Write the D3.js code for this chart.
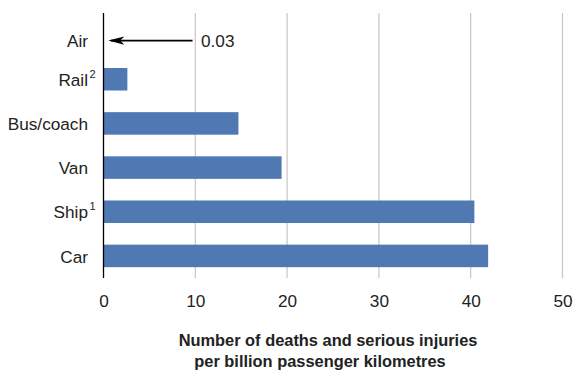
<!DOCTYPE html>
<html><head><meta charset="utf-8">
<script src="https://cdn.jsdelivr.net/npm/d3@7/dist/d3.min.js"></script>
<style>body{margin:0;background:#fff}svg{display:block}text{font-family:"Liberation Sans",Arial,sans-serif;fill:#222}</style>
</head><body><svg id="c" width="573" height="372"></svg>
<script>
const categories = ["Air","Rail","Bus/coach","Van","Ship","Car"];
const superscripts = ["","2","","","1",""];
const values = [0.03, 2.6, 14.7, 19.4, 40.4, 41.9];
const ticks = [0,10,20,30,40,50];
const titleLines = ["Number of deaths and serious injuries","per billion passenger kilometres"];
const airNote = "0.03";

const FS = "17.2px";
const svg = d3.select("#c");
const x = d3.scaleLinear().domain([0,50]).range([103.5,562.5]);
const y = d3.scaleBand().domain(categories).range([13,278]).paddingInner(0.49).paddingOuter(0.245);
const rowShift = c => c === "Air" ? 5.5 : 0; // annotation row sits slightly lower in the original

// gridlines
svg.append("g").selectAll("line").data(ticks.slice(1)).join("line")
  .attr("x1",d=>x(d)).attr("x2",d=>x(d)).attr("y1",13).attr("y2",278)
  .attr("stroke","#c6c6c6").attr("stroke-width",1.2);

// bars
svg.append("g").selectAll("rect").data(values).join("rect")
  .attr("x",x(0)).attr("y",(d,i)=>y(categories[i]))
  .attr("width",d=>x(d)-x(0)).attr("height",y.bandwidth())
  .attr("fill","#5079b4");

// axis line
svg.append("line").attr("x1",x(0)).attr("x2",x(0)).attr("y1",13).attr("y2",278)
  .attr("stroke","#000").attr("stroke-width",1.3);

// tick labels
const xAxis = d3.axisBottom(x).tickValues(ticks).tickSize(0).tickPadding(0).tickFormat(d3.format("d"));
const gx = svg.append("g").attr("transform","translate(0,307)").call(xAxis);
gx.select(".domain").remove();
gx.selectAll("text").attr("font-size",FS).attr("dy","0").attr("fill","#222")
  .style("font-family","'Liberation Sans',Arial,sans-serif");

// category labels
const lab = svg.append("g");
categories.forEach((c,i)=>{
  const cy = y(c)+y.bandwidth()/2 + rowShift(c);
  lab.append("text").attr("x",88).attr("y",cy+6.6).attr("text-anchor","end")
    .attr("font-size",FS).text(c);
  if(superscripts[i]) lab.append("text").attr("x",89.5).attr("y",cy-1.3)
    .attr("font-size","11px").text(superscripts[i]);
});

// Air annotation arrow
const ay = y("Air")+y.bandwidth()/2 + rowShift("Air");
svg.append("line").attr("x1",x(9.7)).attr("x2",x(0.8)).attr("y1",ay).attr("y2",ay)
  .attr("stroke","#000").attr("stroke-width",1.8);
const tip = x(0.52);
svg.append("path").attr("d",`M${tip},${ay} L${tip+16},${ay-4.2} L${tip+12},${ay} L${tip+16},${ay+4.2} Z`).attr("fill","#000");
svg.append("text").attr("x",201).attr("y",ay+6.2).attr("font-size",FS).text(airNote);

// title
const tt = svg.append("text").attr("font-size","16.4px").attr("font-weight","bold").attr("fill","#111");
tt.append("tspan").attr("x",328).attr("y",346).attr("text-anchor","middle").text(titleLines[0]);
tt.append("tspan").attr("x",320).attr("y",367).attr("text-anchor","middle").text(titleLines[1]);
</script></body></html>
